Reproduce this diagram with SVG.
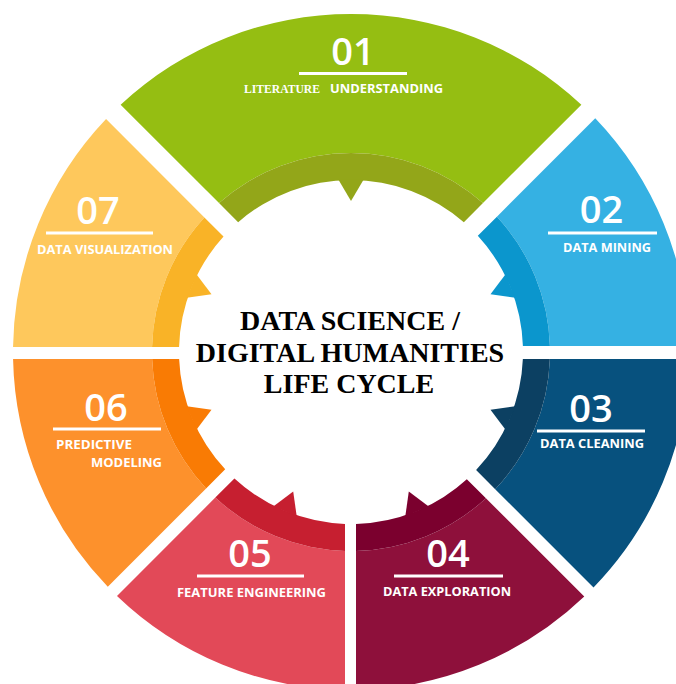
<svg xmlns="http://www.w3.org/2000/svg" width="676" height="684" viewBox="0 0 676 684">
<style>
.num{font-family:"Open Sans","Liberation Sans",sans-serif;font-weight:600;font-size:38px;fill:#fff;text-anchor:middle}
.lbl{font-family:"Open Sans","Liberation Sans",sans-serif;font-weight:700;font-size:13px;fill:#fff}
.lbls{font-family:"Liberation Serif","Times New Roman",serif;font-weight:700;font-size:12.6px;fill:#fff}
.bar{fill:#fff}
.title{font-family:"Liberation Serif","Times New Roman",serif;font-weight:700;font-size:28px;fill:#000;text-anchor:middle}
</style>
<rect width="676" height="684" fill="#fff"/>
<g id="seg01">
<path fill="#95BE12" d="M120.63 104.66 A338 338 0 0 1 581.37 104.66 L482.98 203.05 A199 199 0 0 0 219.02 203.05 Z"/>
<path fill="#93A619" d="M219.02 203.05 A199 199 0 0 1 482.98 203.05 L463.84 222.19 A172 172 0 0 0 238.16 222.19 Z"/>
<polygon fill="#93A619" points="338.33,179.47 363.67,179.47 351,201"/>
<text class="num" x="353" y="65">01</text>
<rect class="bar" x="299" y="72" width="108" height="3"/>
<text class="lbls" x="244" y="93" textLength="76" lengthAdjust="spacingAndGlyphs">LITERATURE</text>
<text class="lbl" x="330" y="93" textLength="113" lengthAdjust="spacingAndGlyphs">UNDERSTANDING</text>
</g>
<g id="seg02">
<path fill="#35B1E3" d="M595.25 118.36 A338 338 0 0 1 688.95 346 L549.91 346 A199 199 0 0 0 496.92 216.69 Z"/>
<path fill="#0B96CD" d="M496.92 216.69 A199 199 0 0 1 549.91 346 L522.9 346 A172 172 0 0 0 477.81 235.79 Z"/>
<polygon fill="#0B96CD" points="505.55,274.27 515.25,297.68 490.51,294.21"/>
<text class="num" x="601.5" y="223">02</text>
<rect class="bar" x="548" y="231.5" width="109" height="3"/>
<text class="lbl" x="563" y="252" textLength="88" lengthAdjust="spacingAndGlyphs">DATA MINING</text>
</g>
<g id="seg03">
<path fill="#07517E" d="M688.93 359 A338 338 0 0 1 593.51 587.44 L495.21 489.14 A199 199 0 0 0 549.88 359 Z"/>
<path fill="#0C4062" d="M549.88 359 A199 199 0 0 1 495.21 489.14 L476.11 470.04 A172 172 0 0 0 522.86 359 Z"/>
<polygon fill="#0C4062" points="515.25,406.32 505.55,429.73 490.51,409.79"/>
<text class="num" x="591" y="422">03</text>
<rect class="bar" x="537" y="429.5" width="108" height="3"/>
<text class="lbl" x="540" y="448" textLength="104" lengthAdjust="spacingAndGlyphs">DATA CLEANING</text>
</g>
<g id="seg04">
<path fill="#8E103B" d="M584.28 596.6 A338 338 0 0 1 356 689.96 L356 550.94 A199 199 0 0 0 485.94 498.26 Z"/>
<path fill="#7B002E" d="M485.94 498.26 A199 199 0 0 1 356 550.94 L356 523.93 A172 172 0 0 0 466.83 479.15 Z"/>
<polygon fill="#7B002E" points="428.73,506.55 405.32,516.25 408.79,491.51"/>
<text class="num" x="448" y="567">04</text>
<rect class="bar" x="394" y="574.5" width="109" height="3"/>
<text class="lbl" x="383" y="596" textLength="128" lengthAdjust="spacingAndGlyphs">DATA EXPLORATION</text>
</g>
<g id="seg05">
<path fill="#E24958" d="M345 689.95 A338 338 0 0 1 117 595.9 L215.32 497.58 A199 199 0 0 0 345 550.91 Z"/>
<path fill="#C61F30" d="M345 550.91 A199 199 0 0 1 215.32 497.58 L234.43 478.47 A172 172 0 0 0 345 523.9 Z"/>
<polygon fill="#C61F30" points="296.68,516.25 273.27,506.55 293.21,491.51"/>
<text class="num" x="250" y="567">05</text>
<rect class="bar" x="197" y="574.5" width="107" height="3"/>
<text class="lbl" x="177" y="597" textLength="149" lengthAdjust="spacingAndGlyphs">FEATURE ENGINEERING</text>
</g>
<g id="seg06">
<path fill="#FD912C" d="M107.79 586.72 A338 338 0 0 1 13.07 359 L152.12 359 A199 199 0 0 0 206.11 488.41 Z"/>
<path fill="#F97B04" d="M206.11 488.41 A199 199 0 0 1 152.12 359 L179.14 359 A172 172 0 0 0 225.21 469.31 Z"/>
<polygon fill="#F97B04" points="196.45,429.73 186.75,406.32 211.49,409.79"/>
<text class="num" x="106" y="421">06</text>
<rect class="bar" x="53" y="427.5" width="108" height="3"/>
<text class="lbl" x="56" y="449" textLength="76" lengthAdjust="spacingAndGlyphs">PREDICTIVE</text>
<text class="lbl" x="91" y="467" textLength="71" lengthAdjust="spacingAndGlyphs">MODELING</text>
</g>
<g id="seg07">
<path fill="#FEC85C" d="M13.04 347 A338 338 0 0 1 106.06 119.08 L204.4 217.42 A199 199 0 0 0 152.06 347 Z"/>
<path fill="#F9B327" d="M152.06 347 A199 199 0 0 1 204.4 217.42 L223.52 236.54 A172 172 0 0 0 179.07 347 Z"/>
<polygon fill="#F9B327" points="186.75,297.68 196.45,274.27 211.49,294.21"/>
<text class="num" x="98" y="224">07</text>
<rect class="bar" x="46" y="231.5" width="107" height="3"/>
<text class="lbl" x="37" y="254" textLength="136" lengthAdjust="spacingAndGlyphs">DATA VISUALIZATION</text>
</g>
<g id="center">
<text class="title" x="350" y="330">DATA SCIENCE /</text>
<text class="title" x="350" y="362">DIGITAL HUMANITIES</text>
<text class="title" x="349" y="393">LIFE CYCLE</text>
</g>
</svg>
